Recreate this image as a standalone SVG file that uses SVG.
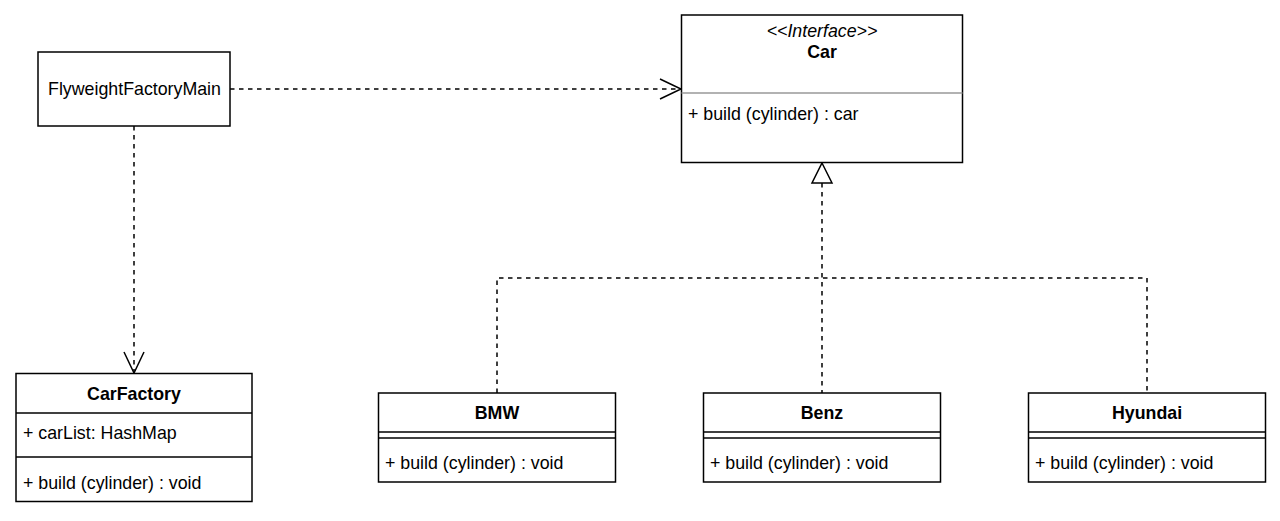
<svg xmlns="http://www.w3.org/2000/svg" width="1280" height="521" viewBox="0 0 1280 521">
<style>
.box{fill:#fff;stroke:#000;stroke-width:1.5}
.div{stroke:#000;stroke-width:1.5}
.t{font-family:"Liberation Sans",Arial,sans-serif;font-size:17.8px;fill:#000}
.c{text-anchor:middle}
.b{font-weight:bold}
.dash{fill:none;stroke:#000;stroke-width:1.5;stroke-dasharray:4.5 4.5}
.head{fill:none;stroke:#000;stroke-width:1.5}
</style>
<rect width="1280" height="521" fill="#fff"/>
<g id="connectors">
<path class="dash" d="M230,89 H679"/>
<path class="head" d="M660,79 L681,89 L660,99"/>
<path class="dash" d="M134,126 V371"/>
<path class="head" d="M124,352 L134,373 L144,352"/>
<path class="dash" d="M822,183 V393"/>
<path class="dash" d="M497,393 V278 H1147 V393"/>
<path d="M822,163 L832,183 H812 Z" fill="#fff" stroke="#000" stroke-width="1.5"/>
</g>
<g id="FlyweightFactoryMain">
<rect class="box" x="38" y="52" width="192" height="74"/>
<text class="t c" x="134.5" y="94.5">FlyweightFactoryMain</text>
</g>
<g id="Car">
<rect class="box" x="681.5" y="15" width="281" height="147.5"/>
<line x1="681.5" y1="93" x2="962.5" y2="93" stroke="#999" stroke-width="1.5"/>
<text class="t c" x="822" y="37" font-style="italic">&lt;&lt;Interface&gt;&gt;</text>
<text class="t c b" x="822" y="58">Car</text>
<text class="t" x="688" y="120">+ build (cylinder) : car</text>
</g>
<g id="CarFactory">
<rect class="box" x="16" y="373.5" width="236" height="128"/>
<line class="div" x1="16" y1="413" x2="252" y2="413"/>
<line class="div" x1="16" y1="457" x2="252" y2="457"/>
<text class="t c b" x="134" y="400">CarFactory</text>
<text class="t" x="23" y="438.5">+ carList: HashMap</text>
<text class="t" x="23" y="488.5">+ build (cylinder) : void</text>
</g>
<g id="BMW">
<rect class="box" x="378.5" y="393" width="237" height="89"/>
<line class="div" x1="378.5" y1="432" x2="615.5" y2="432"/>
<line class="div" x1="378.5" y1="438" x2="615.5" y2="438"/>
<text class="t c b" x="497" y="419">BMW</text>
<text class="t" x="385" y="468.5">+ build (cylinder) : void</text>
</g>
<g id="Benz">
<rect class="box" x="703.5" y="393" width="237" height="89"/>
<line class="div" x1="703.5" y1="432" x2="940.5" y2="432"/>
<line class="div" x1="703.5" y1="438" x2="940.5" y2="438"/>
<text class="t c b" x="822" y="419">Benz</text>
<text class="t" x="710" y="468.5">+ build (cylinder) : void</text>
</g>
<g id="Hyundai">
<rect class="box" x="1028.5" y="393" width="237" height="89"/>
<line class="div" x1="1028.5" y1="432" x2="1265.5" y2="432"/>
<line class="div" x1="1028.5" y1="438" x2="1265.5" y2="438"/>
<text class="t c b" x="1147" y="419">Hyundai</text>
<text class="t" x="1035" y="468.5">+ build (cylinder) : void</text>
</g>
</svg>
